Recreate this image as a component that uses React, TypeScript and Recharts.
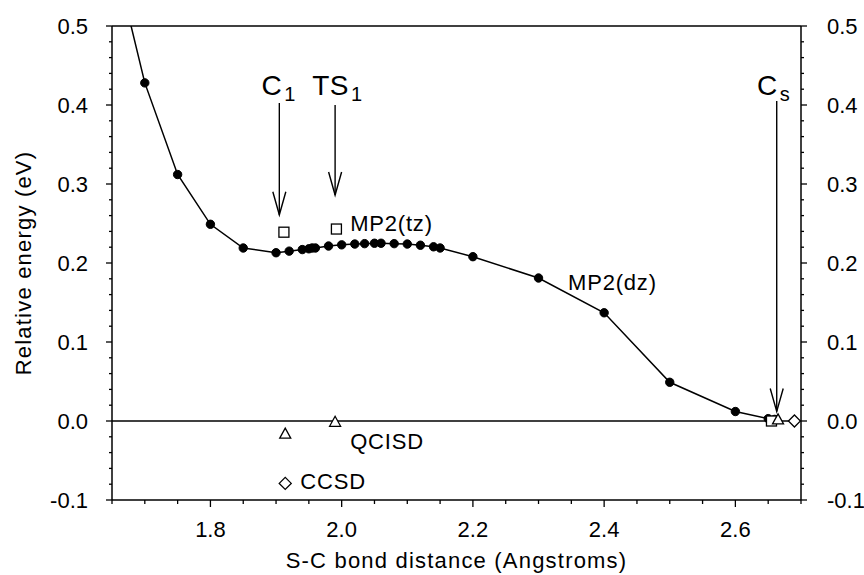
import { ComposedChart, Line, Scatter, XAxis, YAxis, ReferenceLine, ReferenceDot } from 'recharts';

// MP2(dz) scan, filled circles joined by a curve
const mp2dzDistance = [1.65, 1.7, 1.75, 1.8, 1.85, 1.9, 1.92, 1.94, 1.95, 1.955, 1.96, 1.98, 2.0, 2.02, 2.035, 2.05, 2.06, 2.08, 2.1, 2.12, 2.14, 2.15, 2.2, 2.3, 2.4, 2.5, 2.6, 2.65, 2.66];
const mp2dzEnergy = [0.6, 0.428, 0.312, 0.249, 0.219, 0.213, 0.215, 0.217, 0.218, 0.219, 0.219, 0.2215, 0.223, 0.224, 0.2245, 0.225, 0.225, 0.2245, 0.224, 0.2225, 0.2205, 0.219, 0.208, 0.181, 0.137, 0.049, 0.012, 0.003, 0.002];

// single point calculations
const mp2tzDistance = [1.912, 1.992, 2.655];
const mp2tzEnergy = [0.239, 0.243, 0.0];
const qcisdDistance = [1.914, 1.99, 2.665];
const qcisdEnergy = [-0.016, -0.001, 0.002];
const ccsdDistance = [1.914, 2.69];
const ccsdEnergy = [-0.079, 0.0];

// axes
const xTicks = [1.65, 1.7, 1.75, 1.8, 1.85, 1.9, 1.95, 2.0, 2.05, 2.1, 2.15, 2.2, 2.25, 2.3, 2.35, 2.4, 2.45, 2.5, 2.55, 2.6, 2.65, 2.7];
const xMajorTicks = [1.8, 2.0, 2.2, 2.4, 2.6];
const yTicks = [-0.1, -0.08, -0.06, -0.04, -0.02, 0, 0.02, 0.04, 0.06, 0.08, 0.1, 0.12, 0.14, 0.16, 0.18, 0.2, 0.22, 0.24, 0.26, 0.28, 0.3, 0.32, 0.34, 0.36, 0.38, 0.4, 0.42, 0.44, 0.46, 0.48, 0.5];
const yMajorTicks = [-0.1, 0, 0.1, 0.2, 0.3, 0.4, 0.5];

const toPoints = (xs: number[], ys: number[]) => xs.map((x, i) => ({ x, y: ys[i] }));

const mp2dzData = toPoints(mp2dzDistance, mp2dzEnergy);
const mp2tzData = toPoints(mp2tzDistance, mp2tzEnergy);
const qcisdData = toPoints(qcisdDistance, qcisdEnergy);
const ccsdData = toPoints(ccsdDistance, ccsdEnergy);

const FONT = '"Liberation Sans", Arial, Helvetica, sans-serif';
const isMajor = (list: number[], v: number) => list.some((m) => Math.abs(m - v) < 1e-6);

const LeftTick = (props: any) => {
  const { x, y, payload } = props;
  const major = isMajor(yMajorTicks, payload.value);
  return (
    <g>
      <line x1={x - (major ? 6 : 3)} x2={x} y1={y} y2={y} stroke="#000" strokeWidth={1.3} />
      {major && (
        <text x={x - 24} y={y} dy="0.36em" textAnchor="end" fontSize={22} fontFamily={FONT} fill="#000">
          {payload.value.toFixed(1)}
        </text>
      )}
    </g>
  );
};

const RightTick = (props: any) => {
  const { x, y, payload } = props;
  const major = isMajor(yMajorTicks, payload.value);
  return (
    <g>
      <line x1={x} x2={x + (major ? 6 : 3)} y1={y} y2={y} stroke="#000" strokeWidth={1.3} />
      {major && (
        <text x={x + 26} y={y} dy="0.36em" textAnchor="start" fontSize={22} fontFamily={FONT} fill="#000">
          {payload.value.toFixed(1)}
        </text>
      )}
    </g>
  );
};

const BottomTick = (props: any) => {
  const { x, y, payload } = props;
  const major = isMajor(xMajorTicks, payload.value);
  return (
    <g>
      <line x1={x} x2={x} y1={y} y2={y + (major ? 7 : 4)} stroke="#000" strokeWidth={1.3} />
      {major && (
        <text x={x} y={y + 37} textAnchor="middle" fontSize={22} fontFamily={FONT} fill="#000">
          {payload.value.toFixed(1)}
        </text>
      )}
    </g>
  );
};

const Square = (props: any) => (
  <rect x={props.cx - 5} y={props.cy - 5} width={10} height={10} fill="#fff" stroke="#000" strokeWidth={1.3} />
);
const Triangle = (props: any) => (
  <polygon
    points={`${props.cx - 5.5},${props.cy + 4.5} ${props.cx + 5.5},${props.cy + 4.5} ${props.cx},${props.cy - 5.5}`}
    fill="#fff"
    stroke="#000"
    strokeWidth={1.3}
  />
);
const Diamond = (props: any) => (
  <polygon
    points={`${props.cx - 6},${props.cy} ${props.cx},${props.cy - 6} ${props.cx + 6},${props.cy} ${props.cx},${props.cy + 6}`}
    fill="#fff"
    stroke="#000"
    strokeWidth={1.3}
  />
);

const Arrow = (props: any) => {
  const { x1, y1, x2, y2 } = props;
  return (
    <g>
      <line x1={x1} y1={y1} x2={x2} y2={y2} stroke="#000" strokeWidth={1.4} />
      <polyline points={`${x2 - 6.5},${y2 - 23} ${x2},${y2} ${x2 + 6.5},${y2 - 23}`} fill="none" stroke="#000" strokeWidth={1.4} />
    </g>
  );
};

const labelText = (main: string, sub?: string, size = 22) => (props: any) => (
  <text x={props.cx} y={props.cy} fontSize={size} fontFamily={FONT} fill="#000" letterSpacing={size > 22 ? 0.5 : 0.8}>
    {main}
    {sub && (
      <tspan fontSize={20} dy={6} dx={2}>
        {sub}
      </tspan>
    )}
  </text>
);

export default function App() {
  return (
    <div style={{ width: 864, height: 575, background: '#fff' }}>
      <style>{'body{margin:0;}'}</style>
      <ComposedChart width={864} height={575} margin={{ top: 26, right: 0, bottom: 0, left: 0 }}>
        <XAxis
          dataKey="x"
          type="number"
          domain={[1.65, 2.7]}
          allowDataOverflow
          ticks={xTicks}
          interval={0}
          tick={<BottomTick />}
          tickLine={false}
          tickSize={0}
          tickMargin={0}
          height={75}
          axisLine={{ stroke: '#000', strokeWidth: 1.5 }}
          label={{
            content: (p: any) => (
              <text
                x={p.viewBox.x + p.viewBox.width / 2}
                y={p.viewBox.y + 68}
                textAnchor="middle"
                fontSize={22}
                letterSpacing={1.2}
                fontFamily={FONT}
                fill="#000"
              >
                S-C bond distance (Angstroms)
              </text>
            ),
          }}
        />
        <YAxis
          yAxisId="left"
          type="number"
          domain={[-0.1, 0.5]}
          allowDataOverflow
          ticks={yTicks}
          interval={0}
          tick={<LeftTick />}
          tickLine={false}
          tickSize={0}
          tickMargin={0}
          width={112}
          axisLine={{ stroke: '#000', strokeWidth: 1.5 }}
          label={{
            content: (p: any) => (
              <text
                x={p.viewBox.x + 23}
                y={p.viewBox.y + p.viewBox.height / 2}
                dy="0.36em"
                textAnchor="middle"
                transform={`rotate(-90, ${p.viewBox.x + 23}, ${p.viewBox.y + p.viewBox.height / 2})`}
                fontSize={22}
                letterSpacing={1.2}
                fontFamily={FONT}
                fill="#000"
              >
                Relative energy (eV)
              </text>
            ),
          }}
        />
        <YAxis
          yAxisId="right"
          orientation="right"
          type="number"
          domain={[-0.1, 0.5]}
          allowDataOverflow
          ticks={yTicks}
          interval={0}
          tick={<RightTick />}
          tickLine={false}
          tickSize={0}
          tickMargin={0}
          width={63}
          axisLine={{ stroke: '#000', strokeWidth: 1.5 }}
        />

        <ReferenceLine yAxisId="left" y={0.5} stroke="#000" strokeWidth={1.5} />
        <ReferenceLine yAxisId="left" y={0} stroke="#000" strokeWidth={1.5} />

        <Line
          yAxisId="left"
          data={mp2dzData}
          dataKey="y"
          type="linear"
          stroke="#000"
          strokeWidth={1.5}
          dot={{ r: 4.2, fill: '#000', stroke: '#000', strokeWidth: 1 }}
          isAnimationActive={false}
        />
        <Scatter yAxisId="left" data={mp2tzData} dataKey="y" shape={<Square />} isAnimationActive={false} />
        <Scatter yAxisId="left" data={qcisdData} dataKey="y" shape={<Triangle />} isAnimationActive={false} />
        <Scatter yAxisId="left" data={ccsdData} dataKey="y" shape={<Diamond />} isAnimationActive={false} />

        <ReferenceLine yAxisId="left" segment={[{ x: 1.905, y: 0.4025 }, { x: 1.905, y: 0.261 }]} shape={<Arrow />} />
        <ReferenceLine yAxisId="left" segment={[{ x: 1.99, y: 0.4 }, { x: 1.99, y: 0.286 }]} shape={<Arrow />} />
        <ReferenceLine yAxisId="left" segment={[{ x: 2.663, y: 0.405 }, { x: 2.663, y: 0.012 }]} shape={<Arrow />} />

        <ReferenceDot yAxisId="left" x={1.878} y={0.413} r={1} shape={labelText('C', '1', 28)} />
        <ReferenceDot yAxisId="left" x={1.955} y={0.413} r={1} shape={labelText('TS', '1', 28)} />
        <ReferenceDot yAxisId="left" x={2.633} y={0.413} r={1} shape={labelText('C', 's', 28)} />
        <ReferenceDot yAxisId="left" x={2.013} y={0.2405} r={1} shape={labelText('MP2(tz)')} />
        <ReferenceDot yAxisId="left" x={2.345} y={0.166} r={1} shape={labelText('MP2(dz)')} />
        <ReferenceDot yAxisId="left" x={2.013} y={-0.0354} r={1} shape={labelText('QCISD')} />
        <ReferenceDot yAxisId="left" x={1.937} y={-0.086} r={1} shape={labelText('CCSD')} />
      </ComposedChart>
    </div>
  );
}
